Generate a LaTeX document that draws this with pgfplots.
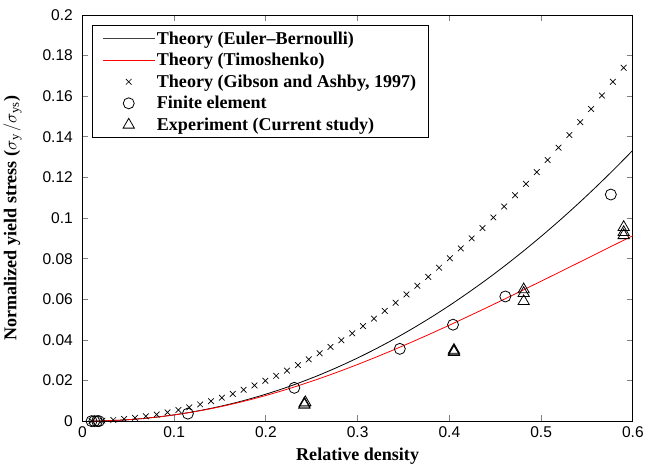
\documentclass[border=0pt]{standalone}
\usepackage{fontspec}
\setmainfont{Liberation Serif}
\setsansfont{Liberation Sans}
\usepackage{pgfplots}
\pgfplotsset{compat=1.18}
\pgfplotsset{
    markleg/.style={legend image code/.code={\draw[##1] plot coordinates {(25.5pt,0pt)};}},
}

\begin{document}
\begin{tikzpicture}
\begin{axis}[
    width=549pt, height=405pt,
    scale only axis,
    xmin=0, xmax=0.6, ymin=0, ymax=0.2,
    xtick={0,0.1,...,0.6},
    ytick={0,0.02,...,0.2},
    tick align=inside,
    major tick length=6pt,
    tick style={line width=0.8pt},
    /pgf/number format/assume math mode=true,
    /pgf/number format/fixed,
    /pgf/number format/precision=2,
    scaled ticks=false,
    ticklabel style={font=\sffamily\fontsize{15.5}{17}\selectfont},
    xticklabel style={yshift=-2pt},
    yticklabel style={xshift=-6pt},
    xlabel={\textbf{Relative density}},
    ylabel={\textbf{Normalized yield stress (}$\sigma_{\mathrm{y}}\,/\sigma_{\mathrm{ys}}$\textbf{)}},
    label style={font=\fontsize{18}{20}\selectfont},
    xlabel style={yshift=-3pt},
    ylabel style={yshift=14pt},
    axis line style={line width=0.9pt},
    legend style={at={(0.018,0.975)}, anchor=north west, draw=black,
        line width=0.9pt, font=\bfseries\fontsize{18}{20}\selectfont,
        cells={anchor=west}, row sep=3.5pt, inner xsep=10pt, inner ysep=4pt},
    legend cell align=left,
]

% Euler-Bernoulli
\addplot[black, line width=0.8pt, smooth, legend image post style={xscale=3, black!75}] coordinates {
(0.01,0.00003) (0.02,0.000105) (0.04,0.000452) (0.06,0.00106) (0.08,0.00194)
(0.10,0.00310) (0.12,0.00454) (0.14,0.00628) (0.16,0.00831) (0.18,0.01064)
(0.20,0.01328) (0.22,0.01622) (0.24,0.01948) (0.26,0.02304) (0.28,0.02693)
(0.30,0.03112) (0.32,0.03564) (0.34,0.04047) (0.36,0.04564) (0.38,0.05112)
(0.40,0.05693) (0.42,0.06309) (0.44,0.06955) (0.46,0.07636) (0.48,0.08350)
(0.50,0.09097) (0.52,0.09878) (0.54,0.10692) (0.56,0.11541) (0.58,0.12424)
(0.60,0.13341)
};
\addlegendentry{Theory (Euler--Bernoulli)}

% Timoshenko
\addplot[red, line width=0.8pt, smooth, legend image post style={xscale=3}] coordinates {
(0.01,0.00003) (0.02,0.000105) (0.04,0.000451) (0.06,0.001055) (0.08,0.001924)
(0.10,0.003061) (0.12,0.004458) (0.14,0.006126) (0.16,0.008046) (0.18,0.010216)
(0.20,0.012633) (0.22,0.015273) (0.24,0.018143) (0.26,0.021206) (0.28,0.024473)
(0.30,0.027905) (0.32,0.031509) (0.34,0.035253) (0.36,0.039146) (0.38,0.043147)
(0.40,0.047253) (0.42,0.051468) (0.44,0.055738) (0.46,0.060088) (0.48,0.064484)
(0.50,0.068917) (0.52,0.073382) (0.54,0.077862) (0.56,0.082353) (0.58,0.086845)
(0.60,0.091327)
};
\addlegendentry{Theory (Timoshenko)}

% Gibson and Ashby
\addplot[only marks, mark=x, mark size=4pt, mark options={line width=0.7pt, black}, markleg] coordinates {
(0.01000,0.000050) (0.02184,0.000238) (0.03367,0.000567) (0.04551,0.001036)
(0.05735,0.001644) (0.06918,0.002393) (0.08102,0.003282) (0.09286,0.004311)
(0.10469,0.005480) (0.11653,0.006790) (0.12837,0.008239) (0.14020,0.009828)
(0.15204,0.011558) (0.16388,0.013428) (0.17571,0.015437) (0.18755,0.017588)
(0.19939,0.019878) (0.21122,0.022307) (0.22306,0.024878) (0.23490,0.027589)
(0.24673,0.030438) (0.25857,0.033429) (0.27041,0.036561) (0.28224,0.039830)
(0.29408,0.043242) (0.30592,0.046793) (0.31776,0.050486) (0.32959,0.054315)
(0.34143,0.058287) (0.35327,0.062400) (0.36510,0.066649) (0.37694,0.071042)
(0.38878,0.075575) (0.40061,0.080244) (0.41245,0.085057) (0.42429,0.090011)
(0.43612,0.095100) (0.44796,0.100334) (0.45980,0.105708) (0.47163,0.111217)
(0.48347,0.116872) (0.49531,0.122666) (0.50714,0.128596) (0.51898,0.134670)
(0.53082,0.140885) (0.54265,0.147234) (0.55449,0.153729) (0.56633,0.160365)
(0.57816,0.167134) (0.59000,0.174050)
};
\addlegendentry{Theory (Gibson and Ashby, 1997)}

% Finite element
\addplot[only marks, mark=o, mark size=5.5pt, mark options={line width=0.8pt, black}, markleg] coordinates {
(0.010,0) (0.013,0) (0.016,0) (0.018,0)
(0.115,0.0037) (0.231,0.0164) (0.346,0.0356) (0.404,0.0475)
(0.461,0.0614) (0.576,0.1116)
};
\addlegendentry{Finite element}

% Experiment
\addplot[only marks, mark=triangle, mark size=6.5pt, mark options={line width=0.8pt, black}, markleg] coordinates {
(0.242,0.0080) (0.242,0.0086) (0.243,0.0092)
(0.405,0.0340) (0.405,0.0345) (0.405,0.0350)
(0.481,0.0590) (0.481,0.0630) (0.481,0.0648)
(0.590,0.0915) (0.590,0.0930) (0.590,0.0955)
};
\addlegendentry{Experiment (Current study)}

\end{axis}
% a little white space above the plot, as in the original
\path ([yshift=15pt]current axis.north west) rectangle (current axis.north east);
\end{tikzpicture}
\end{document}
